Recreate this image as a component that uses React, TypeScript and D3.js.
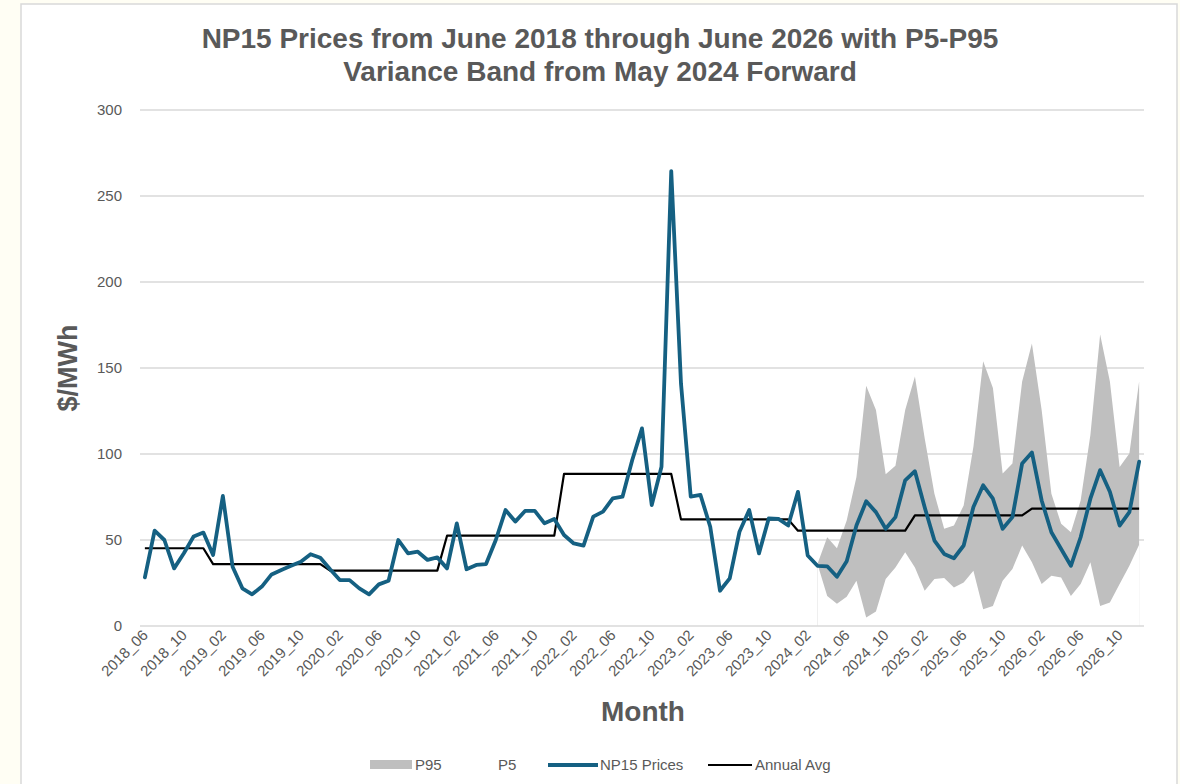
import React from "react";
import * as d3 from "d3";

// ---------- DATA ----------
const startYear = 2018;
const startMonth = 6; // June
const monthCount = 103; // 2018_06 .. 2026_12

const months: string[] = Array.from({ length: monthCount }, (_, i) => {
  const m0 = startMonth - 1 + i;
  const y = startYear + Math.floor(m0 / 12);
  const m = (m0 % 12) + 1;
  return `${y}_${m < 10 ? "0" + m : m}`;
});

const np15Prices: number[] = [
  28.3, 55.4, 50, 33.5, 42.3, 52, 54.3, 41.3, 75.6, 34.5,
  21.9, 18.4, 22.9, 30, 32.6, 35, 37.4, 41.7, 39.7, 33,
  26.7, 26.7, 21.9, 18.4, 24.2, 26.3, 50, 42.2, 43.2, 38.4,
  39.9, 33.5, 59.7, 33, 35.5, 36, 50, 67.4, 60.7, 66.9,
  66.9, 59.7, 62.2, 52.9, 48, 46.7, 63.6, 66.5, 74.2, 75.2,
  96.5, 114.9, 70.3, 92.6, 264.5, 141, 75.2, 76.2, 57.7, 20.5,
  27.7, 54.8, 67.4, 42.2, 62.5, 62.3, 58.4, 78, 41, 35,
  34.7, 28.6, 37.6, 58.4, 72.5, 66.2, 56.5, 63.3, 84.7, 90,
  69, 49.7, 41.9, 39.4, 46.8, 69.2, 81.8, 74, 56.5, 63.3,
  94.5, 100.9, 73, 54.5, 44.8, 35, 51.6, 74, 90.6, 78,
  58.4, 66.2, 95.5,
];

const avgYears: number[] = [2018, 2019, 2020, 2021, 2022, 2023, 2024, 2025, 2026];
const annualAvg: number[] = [45.2, 36, 32.2, 52.5, 88.4, 62, 55.4, 64.3, 68.2];

const bandStart = "2024_03";
const p95: number[] = [
  36, 51.6, 45.2, 61.4, 86.7, 139.7, 125.6, 88.2, 93.1, 125.6,
  145.1, 109.1, 76.9, 56.5, 58.4, 70.1, 104.2, 153.9, 138.3, 88.6,
  94.5, 142.2, 164.2, 125.6, 76.9, 59.4, 54.5, 73, 111, 169.5,
  142.2, 92.5, 100.3, 142.2,
];
const p5: number[] = [
  36, 17.5, 13, 17, 26.3, 4.9, 8.4, 27.3, 34, 42.9,
  34, 20.5, 27.3, 27.9, 22.4, 25.3, 32.1, 9.7, 11.7, 26.3,
  33.1, 46.8, 37, 24.4, 29.2, 28.2, 17.5, 24.4, 37, 11.7,
  13.6, 24.4, 35, 47.3,
];

const yTicks: number[] = [0, 50, 100, 150, 200, 250, 300];
const labelEvery = 4;

const titleLines: string[] = [
  "NP15 Prices from June 2018 through June 2026 with P5-P95",
  "Variance Band from May 2024 Forward",
];

// ---------- STYLE ----------
const W = 1180;
const H = 784;
const plot = { left: 140, right: 1144, top: 110, bottom: 626 };
const textColor = "#595959";
const blue = "#156082";
const gray = "#BFBFBF";
const grid = "#D9D9D9";
const font = "'Liberation Sans', Arial, sans-serif";

export default function App() {
  const x = d3
    .scaleBand<string>()
    .domain(months)
    .range([plot.left, plot.right])
    .paddingInner(0)
    .paddingOuter(0);
  const cx = (m: string) => (x(m) as number) + x.bandwidth() / 2;
  const y = d3.scaleLinear().domain([0, 300]).range([plot.bottom, plot.top]);

  const priceData = months.map((m, i) => ({ m, v: np15Prices[i] }));
  const avgData = months.map((m) => {
    const yr = +m.slice(0, 4);
    return { m, v: annualAvg[avgYears.indexOf(yr)] };
  });
  const bs = months.indexOf(bandStart);
  const bandMonths = months.slice(bs, bs + p95.length);
  const p95Data = bandMonths.map((m, i) => ({ m, v: p95[i] }));
  const p5Data = bandMonths.map((m, i) => ({ m, v: p5[i] }));

  const line = d3
    .line<{ m: string; v: number }>()
    .x((d) => cx(d.m))
    .y((d) => y(d.v));
  const area = d3
    .area<{ m: string; v: number }>()
    .x((d) => cx(d.m))
    .y0(y(0))
    .y1((d) => y(d.v));

  const legendY = 765;
  const legendFont = 15;

  return (
    <svg
      width={W}
      height={H}
      style={{ position: "absolute", left: 0, top: 0, fontFamily: font }}
    >
      <rect x={0} y={0} width={W} height={H} fill="#FFFEF4" />
      <rect x={21} y={4} width={1156} height={800} fill="#FFFFFF" stroke="#D9D9D9" strokeWidth={1.5} />

      {/* title */}
      {titleLines.map((t, i) => (
        <text
          key={i}
          x={600}
          y={48 + i * 33}
          textAnchor="middle"
          fontSize={28}
          fontWeight="bold"
          fill={textColor}
        >
          {t}
        </text>
      ))}

      {/* gridlines */}
      {yTicks.filter((t) => t > 0).map((t) => (
        <line key={t} x1={plot.left} x2={plot.right} y1={y(t)} y2={y(t)} stroke={grid} strokeWidth={1.3} />
      ))}

      {/* band */}
      <path d={area(p95Data) || ""} fill={gray} />
      <path d={area(p5Data) || ""} fill="#FFFFFF" />

      {/* baseline */}
      <line x1={plot.left} x2={plot.right} y1={y(0)} y2={y(0)} stroke={grid} strokeWidth={1.3} />

      {/* y labels */}
      {yTicks.map((t) => (
        <text key={t} x={122} y={y(t) + 5} textAnchor="end" fontSize={15} fill={textColor}>
          {t}
        </text>
      ))}

      {/* x labels */}
      {months.map((m, i) =>
        i % labelEvery === 0 ? (
          <text
            key={m}
            transform={`translate(${cx(m) + 4},${y(0) + 10}) rotate(-45)`}
            textAnchor="end"
            fontSize={15}
            fill={textColor}
          >
            {m}
          </text>
        ) : null
      )}

      {/* lines */}
      <path d={line(avgData) || ""} fill="none" stroke="#000000" strokeWidth={2.2} strokeLinejoin="round" />
      <path d={line(priceData) || ""} fill="none" stroke={blue} strokeWidth={3.8} strokeLinejoin="round" strokeLinecap="round" />

      {/* axis titles */}
      <text
        transform={`translate(77,${(plot.top + plot.bottom) / 2}) rotate(-90)`}
        textAnchor="middle"
        fontSize={27}
        fontWeight="bold"
        fill={textColor}
      >
        $/MWh
      </text>
      <text x={643} y={721} textAnchor="middle" fontSize={28} fontWeight="bold" fill={textColor}>
        Month
      </text>

      {/* legend */}
      <rect x={370} y={legendY - 5} width={42} height={9} fill={gray} />
      <text x={415} y={legendY + 5} fontSize={legendFont} fill={textColor}>P95</text>
      <text x={498} y={legendY + 5} fontSize={legendFont} fill={textColor}>P5</text>
      <line x1={548} x2={598} y1={legendY} y2={legendY} stroke={blue} strokeWidth={3.8} />
      <text x={600} y={legendY + 5} fontSize={legendFont} fill={textColor}>NP15 Prices</text>
      <line x1={708} x2={752} y1={legendY} y2={legendY} stroke="#000" strokeWidth={2.2} />
      <text x={755} y={legendY + 5} fontSize={legendFont} fill={textColor}>Annual Avg</text>
    </svg>
  );
}
